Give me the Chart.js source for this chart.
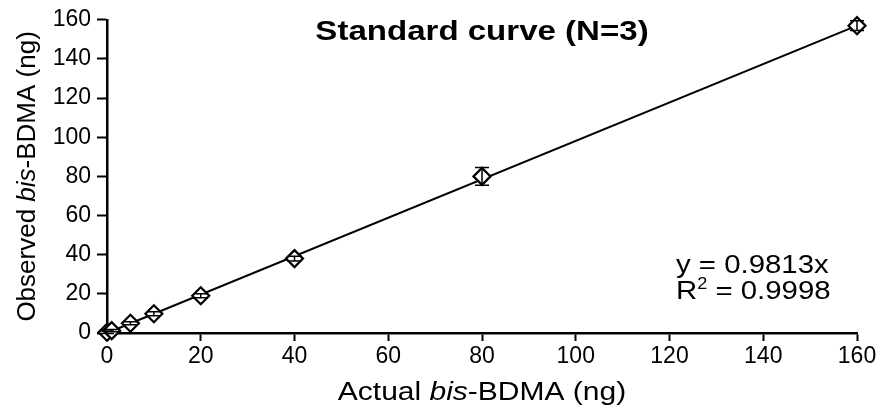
<!DOCTYPE html>
<html>
<head>
<meta charset="utf-8">
<script src="https://cdn.jsdelivr.net/npm/chart.js@4"></script>
<style>
  html, body { margin: 0; padding: 0; background: #fff; }
  #wrap { width: 881px; height: 412px; position: relative; }
</style>
</head>
<body>
<div id="wrap"><canvas id="chart"></canvas></div>
<script>
// data
const actual   = [0, 1, 5, 10, 20, 40, 80, 160];
const observed = [0.4, 1.2, 5, 9.8, 19, 38, 80, 157];
const errors   = [0.6, 0.6, 0.8, 1, 1, 1.2, 4.5, 2.5];
const xTicks = [0, 20, 40, 60, 80, 100, 120, 140, 160];
const yTicks = [0, 20, 40, 60, 80, 100, 120, 140, 160];
const fitSlope = 0.9813;
const fitR2 = 0.9998;

const FONT = '"Liberation Sans", Arial, sans-serif';

// regression line end points (from the printed slope)
const fitLine = [
    { x: xTicks[0], y: fitSlope * xTicks[0] },
    { x: xTicks[xTicks.length - 1], y: fitSlope * xTicks[xTicks.length - 1] }
];

// draws a row of [text, style, dy, size] pieces, a bit wider than the font (the original type is wide)
function drawRow(ctx, parts, size, x, y, sx, align) {
    const fontOf = p => p[1] + (p[3] || size) + 'px ' + FONT;
    let total = 0;
    parts.forEach(p => { ctx.font = fontOf(p); total += ctx.measureText(p[0]).width; });
    let start = align === 'center' ? -total / 2 : 0;
    ctx.save();
    ctx.translate(x, y);
    ctx.scale(sx, 1);
    ctx.textAlign = 'left';
    parts.forEach(p => {
        ctx.font = fontOf(p);
        ctx.fillText(p[0], start, p[2] || 0);
        start += ctx.measureText(p[0]).width;
    });
    ctx.restore();
}

// error bars, titles and equation drawn on top
const extras = {
    id: 'extras',
    afterDatasetsDraw(chart) {
        const ctx = chart.ctx;
        const xs = chart.scales.x, ys = chart.scales.y;
        const area = chart.chartArea;

        ctx.save();
        ctx.strokeStyle = '#000';
        ctx.lineWidth = 1.5;
        actual.forEach((a, i) => {
            const px = xs.getPixelForValue(a);
            const top = ys.getPixelForValue(observed[i] + errors[i]);
            const bot = ys.getPixelForValue(observed[i] - errors[i]);
            ctx.beginPath();
            ctx.moveTo(px, top); ctx.lineTo(px, bot);
            ctx.moveTo(px - 7, top); ctx.lineTo(px + 7, top);
            ctx.moveTo(px - 7, bot); ctx.lineTo(px + 7, bot);
            ctx.stroke();
        });

        ctx.fillStyle = '#000';
        ctx.textBaseline = 'alphabetic';
        const midX = (area.left + area.right) / 2;

        // plot title
        drawRow(ctx, [['Standard curve (N=3)', 'bold ']], 28, midX, 40, 1.18, 'center');

        // equation
        drawRow(ctx, [['y = ' + fitSlope.toFixed(4) + 'x', '']], 26, 676, 273, 1.13, 'left');
        drawRow(ctx, [['R', ''], ['2', '', -10, 16], [' = ' + fitR2.toFixed(4), '']], 26, 676, 299, 1.13, 'left');

        // axis titles with italic "bis"
        drawRow(ctx, [['Actual ', ''], ['bis', 'italic '], ['-BDMA (ng)', '']], 25, midX, 400, 1.2, 'center');

        ctx.translate(35, (area.top + area.bottom) / 2);
        ctx.rotate(-Math.PI / 2);
        drawRow(ctx, [['Observed ', ''], ['bis', 'italic '], ['-BDMA (ng)', '']], 25, 0, 0, 1.04, 'center');
        ctx.restore();
    }
};

const ctx = document.getElementById('chart').getContext('2d');
new Chart(ctx, {
    type: 'scatter',
    data: {
        datasets: [
            {
                label: 'Observed',
                data: actual.map((a, i) => ({ x: a, y: observed[i] })),
                pointStyle: 'rectRot',
                pointRadius: 8.5,
                pointBackgroundColor: '#fff',
                pointBorderColor: '#000',
                pointBorderWidth: 2.2,
                showLine: false,
                clip: false,
                order: 1
            },
            {
                label: 'Fit',
                data: fitLine,
                showLine: true,
                borderColor: '#000',
                borderWidth: 2,
                pointRadius: 0,
                clip: false,
                order: 2
            }
        ]
    },
    options: {
        responsive: true,
        maintainAspectRatio: false,
        animation: false,
        layout: { padding: { top: 19, right: 24, left: 0, bottom: 0 } },
        plugins: {
            legend: { display: false },
            tooltip: { enabled: false }
        },
        scales: {
            x: {
                type: 'linear',
                min: 0,
                max: 160,
                afterBuildTicks: axis => { axis.ticks = xTicks.map(v => ({ value: v })); },
                afterFit: axis => { axis.height = 79; },
                grid: { drawOnChartArea: false, drawTicks: true, tickLength: 8, tickColor: '#000', tickWidth: 2 },
                border: { color: '#000', width: 2.5 },
                ticks: { color: '#000', font: { family: FONT, size: 23 }, padding: 2, maxRotation: 0 }
            },
            y: {
                type: 'linear',
                min: 0,
                max: 160,
                afterBuildTicks: axis => { axis.ticks = yTicks.map(v => ({ value: v })); },
                afterFit: axis => { axis.width = 107; },
                grid: { drawOnChartArea: false, drawTicks: true, tickLength: 10, tickColor: '#000', tickWidth: 2 },
                border: { color: '#000', width: 2.5 },
                ticks: { color: '#000', font: { family: FONT, size: 23 }, padding: 6 }
            }
        }
    },
    plugins: [extras]
});
</script>
</body>
</html>
